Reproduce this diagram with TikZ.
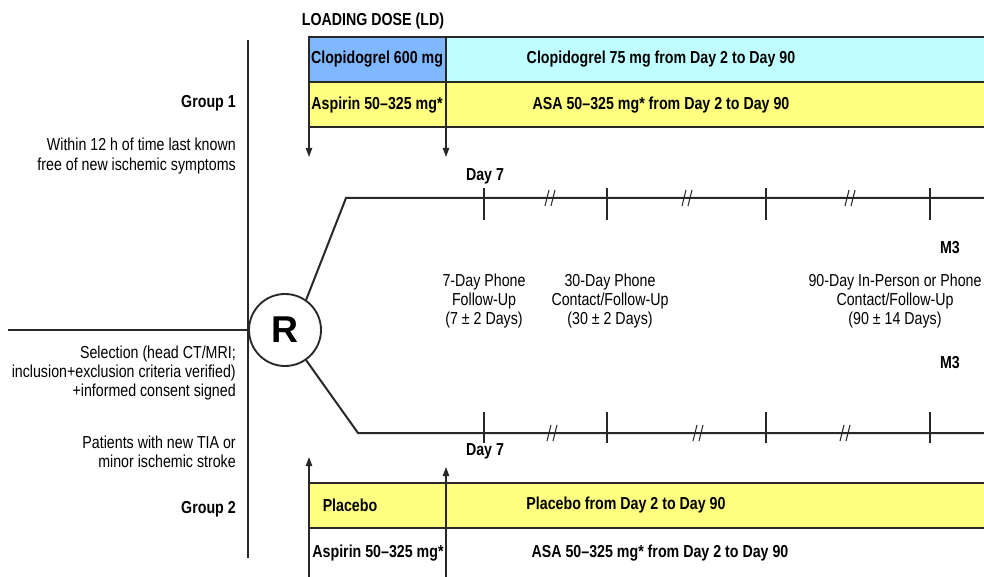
\documentclass[tikz,border=0pt]{standalone}
\usepackage{fontspec}
\setmainfont{Liberation Sans}[FakeStretch=0.82]
\newfontfamily\rfont{Liberation Sans}
\usepackage{tikz}
\usetikzlibrary{arrows.meta,positioning,calc}
\definecolor{ink}{RGB}{40,40,40}
\definecolor{ldblue}{RGB}{128,184,255}
\definecolor{mdcyan}{RGB}{192,255,255}
\definecolor{mdyellow}{RGB}{255,255,128}

\begin{document}
\begin{tikzpicture}[
  x=0.75pt, y=-0.75pt,
  font=\fontsize{13}{14.6}\selectfont,
  txt/.style={inner sep=0pt, align=center},
  hd/.style={inner sep=0pt, font=\fontsize{13}{14.6}\selectfont\bfseries},
  side/.style={inner sep=0pt, align=right, anchor=east},
  cellb/.style={draw=ink, line width=1.4pt},
  tl/.style={draw=ink, line width=1.5pt},
  tick/.style={draw=ink, line width=1pt},
  arr/.style={-{Triangle[length=2.4mm, width=1.7mm]}, draw=ink, line width=0.9pt},
  brk/.pic={\draw[ink, line width=0.8pt] (-5,8) -- (-1,-8) (1,8) -- (5,-8);},
]
\useasboundingbox (0,0) rectangle (984,577);
\clip (0,0) rectangle (984,577);

% left column
\draw[ink, line width=1pt] (248,40) -- (248,558);
\node[side, font=\fontsize{13}{14.6}\selectfont\bfseries] (g1) at (236,103) {Group 1};
\node[side] (win) at (236,156) {Within 12 h of time last known\\free of new ischemic symptoms};
\node[side] (sel) at (236,373) {Selection (head CT/MRI;\\inclusion+exclusion criteria verified)\\+informed consent signed};
\node[side] (pat) at (236,452) {Patients with new TIA or\\minor ischemic stroke};
\node[side, font=\fontsize{13}{14.6}\selectfont\bfseries] (g2) at (236,509) {Group 2};

% randomisation
\node[draw=ink, line width=1.4pt, circle, fill=white, minimum size=54pt, inner sep=0pt,
      font=\rfont\fontsize{28}{30}\selectfont\bfseries] (rr) at (285,330) {R};
\coordinate (lin) at (8,330);
\draw[ink, line width=1pt] (lin) -- (rr.west);

% group 1 treatment
\filldraw[cellb, fill=ldblue] (309,37) rectangle (446,82);
\filldraw[cellb, fill=mdcyan] (446,37) rectangle (995,82);
\filldraw[cellb, fill=mdyellow] (309,82) rectangle (995,127);
\node[hd] (ld) at (373,21) {LOADING DOSE (LD)};
\node[hd] (clo1) at (377,59) {Clopidogrel 600 mg};
\node[hd] (clo2) at (661,59) {Clopidogrel 75 mg from Day 2 to Day 90};
\node[hd] (asp1) at (377,105) {Aspirin 50–325 mg*};
\node[hd] (asa1) at (661,105) {ASA 50–325 mg* from Day 2 to Day 90};
\coordinate (d1) at (309,157);
\coordinate (d2) at (446,157);
\draw[arr] (309,127) -- (d1);
\draw[arr] (446,37) -- (d2);

% timelines
\coordinate (tk1) at (346,198);
\coordinate (bk1) at (358,433);
\draw[tl] (rr.55) -- (tk1) -- (995,198);
\draw[tl] (rr.-55) -- (bk1) -- (995,433);
\foreach \x in {484,607,766,930} {
  \draw[tick] (\x,188) -- (\x,220);
  \draw[tick] (\x,412) -- (\x,443);
}
\foreach \x in {550,687,850} \pic at (\x,198) {brk};
\foreach \x in {552,698,845} \pic at (\x,433) {brk};

\node[hd] (day7a) at (485,176) {Day 7};
\node[hd] (day7b) at (485,451) {Day 7};
\node[hd] (m3a) at (950,248) {M3};
\node[hd] (m3b) at (950,363) {M3};
\node[txt] (fu7) at (484,301) {7-Day Phone\\Follow-Up\\(7 ± 2 Days)};
\node[txt] (fu30) at (610,301) {30-Day Phone\\Contact/Follow-Up\\(30 ± 2 Days)};
\node[txt] (fu90) at (895,301) {90-Day In-Person or Phone\\Contact/Follow-Up\\(90 ± 14 Days)};

% group 2 treatment
\filldraw[cellb, fill=mdyellow] (309,483) rectangle (995,528);
\draw[cellb] (309,528) -- (995,528);
\node[hd] (pla1) at (350,505) {Placebo};
\node[hd] (pla2) at (626,505) {Placebo from Day 2 to Day 90};
\node[hd] (asp2) at (378,553) {Aspirin 50–325 mg*};
\node[hd] (asa2) at (660,553) {ASA 50–325 mg* from Day 2 to Day 90};
\coordinate (u1) at (309,457);
\coordinate (u2) at (446,467);
\draw[arr] (309,580) -- (u1);
\draw[arr] (446,580) -- (u2);
\end{tikzpicture}
\end{document}
